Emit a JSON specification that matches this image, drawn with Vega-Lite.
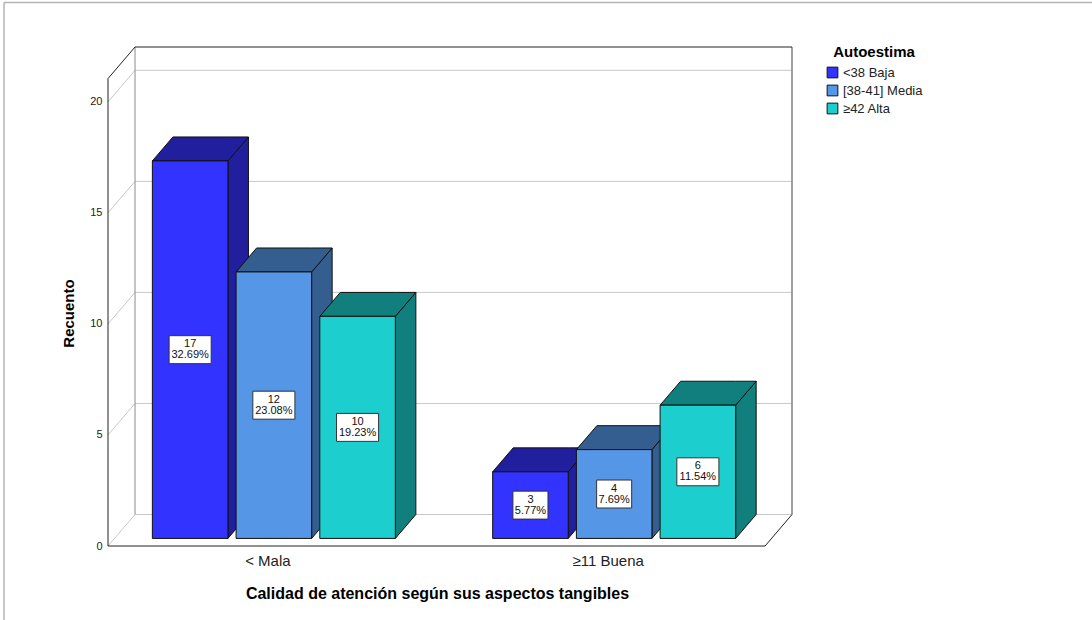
{
  "$schema": "https://vega.github.io/schema/vega-lite/v6.json",
  "width": 684,
  "height": 499,
  "autosize": {"type": "none"},
  "padding": {"left": 108, "top": 47, "right": 300, "bottom": 74},
  "background": "white",
  "config": {
    "view": {"stroke": null},
    "font": "Liberation Sans",
    "text": {"font": "Liberation Sans"}
  },
  "datasets": {
    "recuento": [
      {"calidad": "< Mala", "autoestima": "<38 Baja", "n": 17, "pct": 32.69},
      {"calidad": "< Mala", "autoestima": "[38-41] Media", "n": 12, "pct": 23.08},
      {"calidad": "< Mala", "autoestima": "≥42 Alta", "n": 10, "pct": 19.23},
      {"calidad": "≥11 Buena", "autoestima": "<38 Baja", "n": 3, "pct": 5.77},
      {"calidad": "≥11 Buena", "autoestima": "[38-41] Media", "n": 4, "pct": 7.69},
      {"calidad": "≥11 Buena", "autoestima": "≥42 Alta", "n": 6, "pct": 11.54}
    ],
    "marcas": [{"v": 0}, {"v": 5}, {"v": 10}, {"v": 15}, {"v": 20}]
  },
  "layer": [
    {
      "data": {"values": [{}]},
      "layer": [
        {
          "mark": {"type": "rule", "color": "#b4b4b4", "strokeWidth": 1.5},
          "encoding": {
            "x": {"datum": 0.226, "type": "quantitative"},
            "x2": {"datum": 3.4232},
            "y": {"datum": 24.475, "type": "quantitative"}
          }
        },
        {
          "mark": {"type": "rule", "color": "#b4b4b4", "strokeWidth": 1.5},
          "encoding": {
            "x": {"datum": 0.226, "type": "quantitative"},
            "y": {"datum": 24.475, "type": "quantitative"},
            "y2": {"datum": -3.332}
          }
        }
      ]
    },
    {
      "data": {"name": "marcas"},
      "transform": [{"calculate": "datum.v + 1.419", "as": "v_fondo"}],
      "layer": [
        {
          "mark": {"type": "rule", "color": "#c8c8c8", "strokeWidth": 1},
          "encoding": {
            "x": {"datum": 0.611, "type": "quantitative"},
            "x2": {"datum": 2.5416},
            "y": {"field": "v_fondo", "type": "quantitative"}
          }
        },
        {
          "mark": {"type": "rule", "color": "#c8c8c8", "strokeWidth": 1},
          "encoding": {
            "x": {"datum": 0.5316, "type": "quantitative"},
            "x2": {"datum": 0.611},
            "y": {"field": "v", "type": "quantitative"},
            "y2": {"field": "v_fondo"}
          }
        }
      ]
    },
    {
      "data": {"values": [{}]},
      "layer": [
        {
          "mark": {"type": "rule", "color": "#8c8c8c", "strokeWidth": 1},
          "encoding": {
            "x": {"datum": 0.611, "type": "quantitative"},
            "y": {"datum": 1.419, "type": "quantitative"},
            "y2": {"datum": 22.47}
          }
        },
        {
          "mark": {"type": "rule", "color": "#808080", "strokeWidth": 1.5},
          "encoding": {
            "x": {"datum": 2.5416, "type": "quantitative"},
            "y": {"datum": 1.419, "type": "quantitative"},
            "y2": {"datum": 22.47}
          }
        },
        {
          "mark": {"type": "rule", "color": "#222222", "strokeWidth": 1},
          "encoding": {
            "x": {"datum": 0.611, "type": "quantitative"},
            "x2": {"datum": 2.5416},
            "y": {"datum": 22.47, "type": "quantitative"}
          }
        },
        {
          "mark": {"type": "rule", "color": "#222222", "strokeWidth": 1},
          "encoding": {
            "x": {"datum": 0.5316, "type": "quantitative"},
            "x2": {"datum": 0.611},
            "y": {"datum": 21.05, "type": "quantitative"},
            "y2": {"datum": 22.47}
          }
        },
        {
          "mark": {"type": "rule", "color": "#222222", "strokeWidth": 1},
          "encoding": {
            "x": {"datum": 0.5316, "type": "quantitative"},
            "y": {"datum": 0, "type": "quantitative"},
            "y2": {"datum": 21.05}
          }
        },
        {
          "mark": {"type": "rule", "color": "#222222", "strokeWidth": 1},
          "encoding": {
            "x": {"datum": 0.5316, "type": "quantitative"},
            "x2": {"datum": 2.4625},
            "y": {"datum": 0, "type": "quantitative"}
          }
        },
        {
          "mark": {"type": "rule", "color": "#222222", "strokeWidth": 1},
          "encoding": {
            "x": {"datum": 2.4625, "type": "quantitative"},
            "x2": {"datum": 2.5416},
            "y": {"datum": 0, "type": "quantitative"},
            "y2": {"datum": 1.419}
          }
        }
      ]
    },
    {
      "data": {"name": "recuento"},
      "transform": [
        {"calculate": "indexof(['< Mala', '≥11 Buena'], datum.calidad)", "as": "gi"},
        {"calculate": "indexof(['<38 Baja', '[38-41] Media', '≥42 Alta'], datum.autoestima)", "as": "si"},
        {"calculate": "datum.calidad + ' | ' + datum.autoestima", "as": "barra"},
        {"calculate": "datum.gi + 1 + (datum.si - 1) * 0.246 + 0.019", "as": "c"},
        {"calculate": "datum.c - 0.111", "as": "L"},
        {"calculate": "datum.c + 0.111", "as": "R"},
        {"calculate": "0.341", "as": "B"},
        {"calculate": "datum.n + 0.341", "as": "T"},
        {"calculate": "datum.n / 2 + 0.341", "as": "medio"},
        {"calculate": "format(datum.pct, '.2f') + '%'", "as": "pct_txt"}
      ],
      "layer": [
        {
          "transform": [
            {"calculate": "datum.R", "as": "lado_frente"},
            {"calculate": "datum.R + 0.0603", "as": "lado_fondo"},
            {"fold": ["lado_frente", "lado_fondo"], "as": ["arista", "vx"]},
            {"calculate": "datum.arista == 'lado_frente' ? datum.T : datum.T + 1.078", "as": "hi"},
            {"calculate": "datum.arista == 'lado_frente' ? datum.B : datum.B + 1.078", "as": "lo"}
          ],
          "mark": {"type": "area", "stroke": "#111111", "strokeWidth": 1, "fillOpacity": 1},
          "encoding": {
            "x": {"field": "vx", "type": "quantitative"},
            "y": {"field": "hi", "type": "quantitative"},
            "y2": {"field": "lo"},
            "detail": {"field": "barra"},
            "fill": {
              "field": "autoestima",
              "type": "nominal",
              "legend": null,
              "scale": {
                "domain": ["≥42 Alta", "[38-41] Media", "<38 Baja"],
                "range": ["#127f7f", "#335e8f", "#211f9e"]
              }
            }
          }
        },
        {
          "transform": [
            {"calculate": "datum.L", "as": "t0"},
            {"calculate": "datum.L + 0.0603", "as": "t1"},
            {"calculate": "datum.R", "as": "t2"},
            {"calculate": "datum.R + 0.0603", "as": "t3"},
            {"fold": ["t0", "t1", "t2", "t3"], "as": ["arista", "vx"]},
            {"calculate": "datum.arista == 't0' ? datum.T : datum.T + 1.078", "as": "hi"},
            {"calculate": "datum.arista == 't3' ? datum.T + 1.078 : datum.T", "as": "lo"}
          ],
          "mark": {"type": "area", "stroke": "#111111", "strokeWidth": 1, "fillOpacity": 1},
          "encoding": {
            "x": {"field": "vx", "type": "quantitative"},
            "y": {"field": "hi", "type": "quantitative"},
            "y2": {"field": "lo"},
            "detail": {"field": "barra"},
            "fill": {
              "field": "autoestima",
              "type": "nominal",
              "legend": null,
              "scale": {
                "domain": ["≥42 Alta", "[38-41] Media", "<38 Baja"],
                "range": ["#127f7f", "#335e8f", "#211f9e"]
              }
            }
          }
        },
        {
          "mark": {"type": "rect", "stroke": "#111111", "strokeWidth": 1},
          "encoding": {
            "x": {
              "field": "L",
              "type": "quantitative",
              "scale": {"domain": [0.5316, 2.5416], "nice": false, "zero": false},
              "axis": {
                "values": [1, 2],
                "labelExpr": "datum.value == 1 ? '< Mala' : '≥11 Buena'",
                "domain": false,
                "ticks": false,
                "grid": false,
                "labelFontSize": 15,
                "labelColor": "#222222",
                "labelPadding": 7,
                "labelFont": "Liberation Sans",
                "title": "Calidad de atención según sus aspectos tangibles",
                "titleFontSize": 16,
                "titleFontWeight": "bold",
                "titleColor": "#000000",
                "titleFont": "Liberation Sans",
                "titleX": 329,
                "titleY": 47,
                "titleBaseline": "middle",
                "titleAnchor": "start",
                "titleAlign": "center"
              }
            },
            "x2": {"field": "R"},
            "y": {
              "field": "B",
              "type": "quantitative",
              "scale": {"domain": [0, 22.47], "nice": false, "zero": true},
              "axis": {
                "values": [0, 5, 10, 15, 20],
                "domain": false,
                "ticks": false,
                "tickSize": 0,
                "grid": false,
                "labelFontSize": 11,
                "labelColor": "#222222",
                "labelPadding": 6,
                "labelFont": "Liberation Sans",
                "title": "Recuento",
                "titleFontSize": 15,
                "titleFontWeight": "bold",
                "titleColor": "#000000",
                "titleFont": "Liberation Sans",
                "titleX": -40,
                "titleY": 266,
                "titleBaseline": "middle",
                "titleAlign": "center",
                "titleAngle": -90
              }
            },
            "y2": {"field": "T"},
            "color": {
              "field": "autoestima",
              "type": "nominal",
              "scale": {
                "domain": ["<38 Baja", "[38-41] Media", "≥42 Alta"],
                "range": ["#3333ff", "#5596e6", "#1ccece"]
              },
              "legend": {
                "title": "Autoestima",
                "orient": "none",
                "legendX": 718,
                "legendY": -2,
                "symbolType": "square",
                "symbolSize": 115,
                "symbolStrokeColor": "#111111",
                "symbolStrokeWidth": 1,
                "symbolOpacity": 1,
                "titleFontSize": 15,
                "titleFontWeight": "bold",
                "titleColor": "#000000",
                "titleFont": "Liberation Sans",
                "titleAnchor": "middle",
                "titlePadding": 6,
                "labelFontSize": 13,
                "labelColor": "#222222",
                "labelFont": "Liberation Sans",
                "labelOffset": 4,
                "rowPadding": 3
              }
            }
          }
        },
        {
          "transform": [
            {"calculate": "length(datum.pct_txt) * 0.0103", "as": "hw"},
            {"calculate": "datum.c - datum.hw", "as": "caja_x0"},
            {"calculate": "datum.c + datum.hw", "as": "caja_x1"},
            {"calculate": "datum.medio - 0.63", "as": "caja_y0"},
            {"calculate": "datum.medio + 0.63", "as": "caja_y1"}
          ],
          "mark": {"type": "rect", "fill": "white", "stroke": "#333333", "strokeWidth": 1},
          "encoding": {
            "x": {"field": "caja_x0", "type": "quantitative"},
            "x2": {"field": "caja_x1"},
            "y": {"field": "caja_y0", "type": "quantitative"},
            "y2": {"field": "caja_y1"}
          }
        },
        {
          "mark": {"type": "text", "fontSize": 11, "color": "#111111", "dy": -5.5, "baseline": "middle", "font": "Liberation Sans"},
          "encoding": {
            "x": {"field": "c", "type": "quantitative"},
            "y": {"field": "medio", "type": "quantitative"},
            "text": {"field": "n"}
          }
        },
        {
          "mark": {"type": "text", "fontSize": 11, "color": "#111111", "dy": 5.5, "baseline": "middle", "font": "Liberation Sans"},
          "encoding": {
            "x": {"field": "c", "type": "quantitative"},
            "y": {"field": "medio", "type": "quantitative"},
            "text": {"field": "pct_txt"}
          }
        }
      ]
    }
  ]
}
